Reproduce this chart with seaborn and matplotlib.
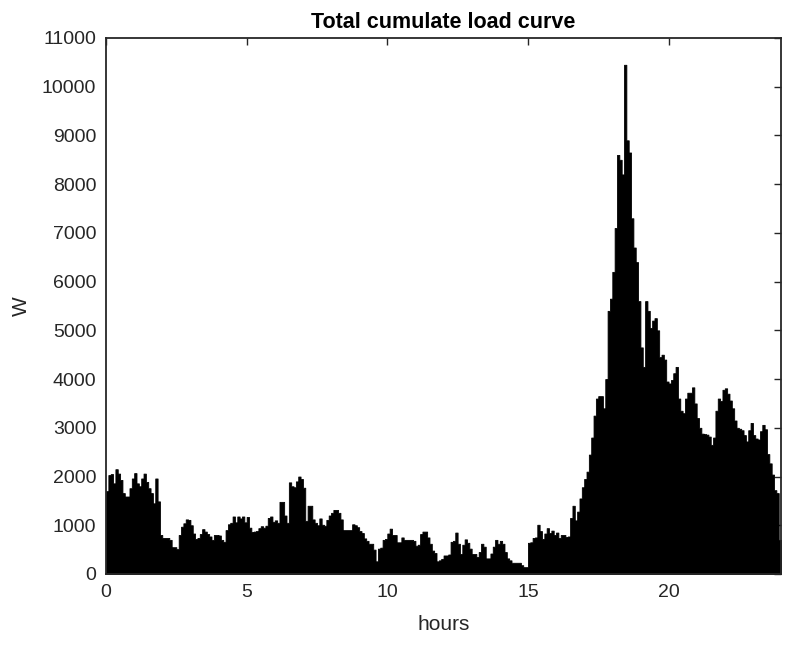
import numpy as np
import pandas as pd
import matplotlib
matplotlib.use("Agg")
import matplotlib.pyplot as plt
import seaborn as sns

# Aggregated household load, one value per 5-minute interval (W)
load_00_04 = [
    1700, 2030, 2050, 1860, 2150, 2060, 1930, 1660, 1590, 1590, 1760, 1960,
    2070, 1860, 1800, 1960, 2060, 1890, 1760, 1660, 1450, 1960, 1490, 800,
    740, 740, 740, 700, 550, 550, 510, 800, 970, 1040, 1120, 1110,
    1000, 830, 720, 740, 820, 920, 870, 820, 770, 700, 800, 800,
]
load_04_08 = [
    790, 700, 660, 900, 1020, 1050, 1180, 1060, 1180, 1140, 1180, 1060,
    1170, 950, 860, 870, 880, 940, 980, 950, 990, 1150, 1180, 1070,
    1100, 1050, 1480, 1480, 1200, 1050, 1880, 1800, 1780, 1900, 2000, 1950,
    1770, 1090, 1400, 1400, 1120, 1050, 1000, 1140, 1010, 990, 1110, 1200,
]
load_08_12 = [
    1255, 1315, 1315, 1255, 1120, 900, 900, 900, 900, 1020, 1000, 960,
    880, 840, 730, 680, 620, 620, 500, 260, 520, 540, 700, 720,
    830, 930, 800, 800, 650, 650, 750, 700, 700, 700, 700, 680,
    580, 600, 820, 870, 870, 750, 620, 480, 430, 260, 280, 310,
]
load_12_16 = [
    380, 380, 400, 660, 680, 850, 620, 410, 600, 710, 640, 520,
    410, 410, 350, 450, 620, 560, 320, 320, 420, 560, 700, 620,
    680, 620, 450, 320, 280, 230, 230, 230, 230, 180, 140, 140,
    640, 650, 740, 750, 1010, 880, 720, 830, 940, 840, 890, 800,
]
load_16_20 = [
    850, 740, 800, 800, 760, 770, 1150, 1400, 1100, 1280, 1550, 1780,
    1950, 2100, 2450, 2800, 3250, 3600, 3650, 3650, 3400, 4000, 5400, 5650,
    6200, 7100, 8600, 8500, 8200, 10450, 8900, 8650, 7300, 6700, 6400, 5600,
    4650, 4250, 5600, 5400, 5050, 5200, 5250, 5000, 4450, 4500, 4400, 3950,
]
load_20_24 = [
    3910, 3980, 4120, 4250, 3600, 3350, 3300, 3600, 3720, 3720, 3830, 3500,
    3200, 3000, 2880, 2870, 2860, 2820, 2650, 2800, 3350, 3600, 3550, 3780,
    3810, 3700, 3560, 3400, 3150, 3000, 2980, 2950, 2850, 2720, 2950, 3100,
    2850, 2780, 2760, 2930, 3060, 2970, 2460, 2270, 2040, 1720, 1660, 700,
]

x_ticks = [0, 5, 10, 15, 20]
y_ticks = list(range(0, 11001, 1000))

sample_minutes = 5
load_w = np.concatenate([load_00_04, load_04_08, load_08_12,
                         load_12_16, load_16_20, load_20_24])
hours = (np.arange(len(load_w)) + 0.5) * sample_minutes / 60
df = pd.DataFrame({"hours": hours, "W": load_w})

sns.set_theme(style="white")
plt.rcParams["font.family"] = ["Liberation Sans", "DejaVu Sans"]

ink = "#262626"
fig = plt.figure(figsize=(7.86, 6.45), dpi=100)
ax = fig.add_axes([0.1349, 0.1101, 0.8588, 0.831])

sns.histplot(data=df, x="hours", weights="W", bins=len(load_w),
             binrange=(0, 24), element="step", fill=True,
             color="black", alpha=1, linewidth=0.6, ax=ax)

ax.set_xlim(0, 24)
ax.set_ylim(0, 11000)
ax.set_xticks(x_ticks)
ax.set_yticks(y_ticks)
ax.tick_params(direction="in", top=True, right=True, length=5, width=1,
               colors=ink, labelsize=14, pad=7)
for s in ax.spines.values():
    s.set_color(ink)
    s.set_linewidth(1.3)

ax.set_title("Total cumulate load curve", fontsize=15.5, fontweight="bold",
             color="black", pad=7)
ax.set_xlabel("hours", fontsize=15, color=ink, labelpad=10)
ax.set_ylabel("W", fontsize=15, color=ink, labelpad=8)

fig.savefig("out.png", dpi=100)
